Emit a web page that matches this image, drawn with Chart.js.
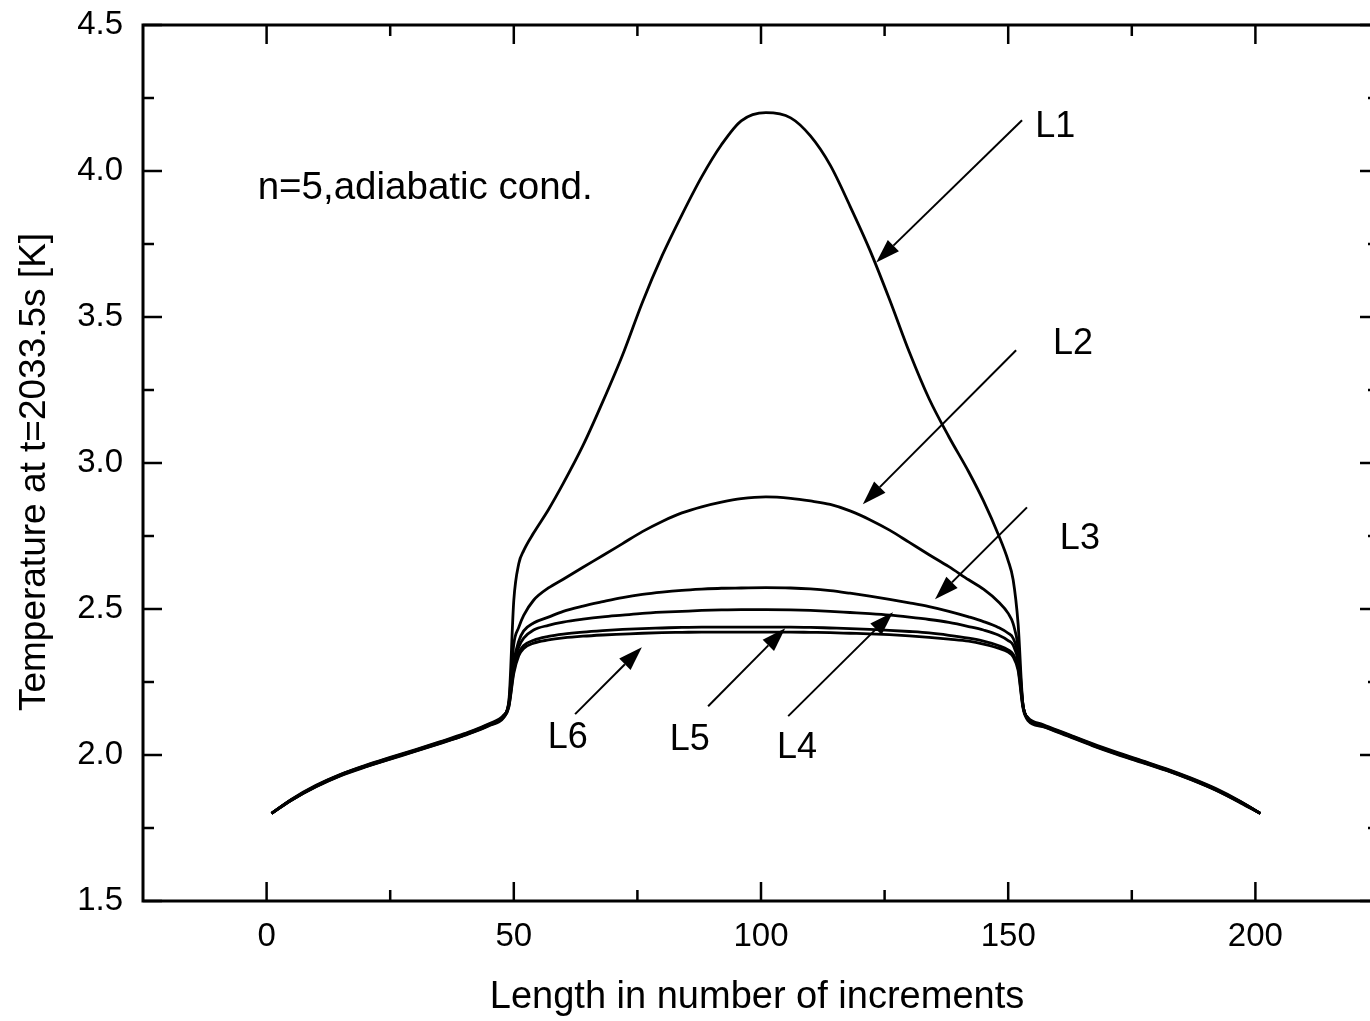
<!DOCTYPE html>
<html><head><meta charset="utf-8">
<script src="https://cdn.jsdelivr.net/npm/chart.js@4.4.1/dist/chart.umd.min.js"></script>
<style>
html,body{margin:0;padding:0;overflow:hidden;background:#fff}
#wrap{width:1370px;height:1021px;overflow:hidden;position:relative;background:#fff}
canvas{display:block}
</style></head><body>
<div id="wrap"><canvas id="c" width="1400" height="1021"></canvas></div>
<script>
// ---- data ----
const xs = [1,5,10,15,20,25,30,35,40,45,48,49,50,51,52,54,57,60,64,68,72,76,80,84,88,92,96,101,106,110,114,118,122,126,130,134,138,142,145,148,150,151,152,153,154,157,162,167,172,177,182,187,192,197,201];
const L1 = [1.800,1.848,1.896,1.934,1.965,1.992,2.018,2.045,2.073,2.107,2.137,
  2.185,2.53,2.655,2.700,
  2.76,2.84,2.93,3.06,3.21,3.37,3.55,3.71,3.85,3.98,4.09,4.172,
  4.200,
  4.182,4.12,4.02,3.88,3.73,3.56,3.38,3.22,3.09,2.97,2.87,2.755,2.665,2.60,
  2.45,2.17,2.128,
  2.104,2.072,2.039,2.009,1.981,1.953,1.921,1.885,1.841,1.800];
const L2 = [1.800,1.847,1.895,1.933,1.963,1.990,2.016,2.043,2.071,2.105,2.135,
  2.18,2.38,2.437,2.478,
  2.53,2.572,2.602,2.643,2.683,2.724,2.765,2.800,2.829,2.850,2.866,2.878,
  2.884,
  2.879,2.870,2.858,2.836,2.806,2.770,2.728,2.686,2.645,2.600,2.568,2.525,2.485,2.45,
  2.37,2.17,2.126,
  2.102,2.070,2.037,2.007,1.979,1.951,1.919,1.883,1.840,1.800];
const L3 = [1.800,1.846,1.894,1.932,1.962,1.989,2.015,2.042,2.070,2.104,2.134,
  2.175,2.32,2.39,2.425,
  2.452,2.472,2.492,2.51,2.525,2.539,2.55,2.558,2.564,2.568,2.571,2.572,
  2.573,
  2.572,2.569,2.563,2.554,2.544,2.533,2.521,2.508,2.492,2.473,2.457,2.437,2.417,2.40,
  2.34,2.17,2.125,
  2.101,2.069,2.036,2.006,1.978,1.950,1.918,1.882,1.839,1.800];
const L4 = [1.800,1.846,1.893,1.931,1.961,1.988,2.014,2.041,2.069,2.103,2.133,
  2.172,2.31,2.37,2.40,
  2.428,2.444,2.455,2.465,2.473,2.479,2.485,2.489,2.492,2.495,2.497,2.498,
  2.498,
  2.497,2.495,2.492,2.488,2.484,2.479,2.472,2.464,2.454,2.440,2.428,2.411,2.392,2.376,
  2.32,2.168,2.124,
  2.100,2.068,2.035,2.005,1.977,1.949,1.917,1.881,1.838,1.800];
const L5 = [1.800,1.845,1.892,1.930,1.960,1.987,2.013,2.040,2.068,2.102,2.131,
  2.168,2.29,2.35,2.375,
  2.393,2.406,2.414,2.421,2.426,2.430,2.433,2.435,2.437,2.438,2.438,2.438,
  2.438,
  2.438,2.437,2.435,2.433,2.430,2.427,2.423,2.418,2.410,2.400,2.390,2.375,2.360,2.345,
  2.30,2.165,2.122,
  2.099,2.067,2.034,2.004,1.976,1.948,1.916,1.880,1.837,1.800];
const L6 = [1.800,1.845,1.891,1.929,1.959,1.986,2.012,2.039,2.067,2.100,2.129,
  2.165,2.28,2.34,2.365,
  2.383,2.394,2.401,2.407,2.411,2.414,2.417,2.419,2.420,2.421,2.421,2.421,
  2.421,
  2.421,2.420,2.419,2.417,2.415,2.412,2.408,2.403,2.397,2.390,2.380,2.366,2.352,2.336,
  2.29,2.16,2.118,
  2.097,2.065,2.032,2.002,1.975,1.947,1.915,1.879,1.836,1.800];
const seriesNames = ['L1','L2','L3','L4','L5','L6'];
const seriesValues = [L1,L2,L3,L4,L5,L6];

const xTickValues = [0,50,100,150,200];
const xMinorTickValues = [25,75,125,175];
const yTickValues = [1.5,2.0,2.5,3.0,3.5,4.0,4.5];
const yMinorTickValues = [1.75,2.25,2.75,3.25,3.75,4.25];

const xTitle = 'Length in number of increments';
const yTitle = 'Temperature at t=2033.5s [K]';
const noteText = 'n=5,adiabatic cond.';
const noteX = -1.8, noteY = 3.94;

// annotation labels and arrows (data coordinates)
const labelX = [159.5,163.1,164.5,107.3,85.6,60.9];
const labelY = [4.149,3.406,2.739,2.023,2.05,2.058];
const arrowFromX = [152.8,151.6,153.8,105.5,89.3,62.4];
const arrowFromY = [4.174,3.386,2.848,2.133,2.167,2.14];
const arrowToX = [123.3,120.6,135.2,126.7,104.9,75.9];
const arrowToY = [3.687,2.859,2.533,2.489,2.434,2.369];

const FONT = "'Liberation Sans', Arial, Helvetica, sans-serif";

const framePlugin = {
  id: 'frame',
  afterDatasetsDraw(chart) {
    const {ctx, chartArea: a, scales: {x, y}} = chart;
    ctx.save();
    ctx.strokeStyle = '#000';
    ctx.fillStyle = '#000';
    ctx.lineWidth = 3;
    ctx.strokeRect(a.left, a.top, a.right - a.left, a.bottom - a.top);
    ctx.lineWidth = 2.5;
    const seg = (x1, y1, x2, y2) => { ctx.beginPath(); ctx.moveTo(x1, y1); ctx.lineTo(x2, y2); ctx.stroke(); };
    const MAJ = 19, MIN = 11;
    xTickValues.forEach(v => { const p = x.getPixelForValue(v); seg(p, a.bottom, p, a.bottom - MAJ); seg(p, a.top, p, a.top + MAJ); });
    xMinorTickValues.forEach(v => { const p = x.getPixelForValue(v); seg(p, a.bottom, p, a.bottom - MIN); seg(p, a.top, p, a.top + MIN); });
    yTickValues.forEach(v => { const p = y.getPixelForValue(v); seg(a.left, p, a.left + MAJ, p); seg(a.right, p, a.right - MAJ, p); });
    yMinorTickValues.forEach(v => { const p = y.getPixelForValue(v); seg(a.left, p, a.left + MIN, p); seg(a.right, p, a.right - MIN, p); });

    // arrows
    ctx.lineWidth = 2;
    for (let i = 0; i < arrowFromX.length; i++) {
      const x1 = x.getPixelForValue(arrowFromX[i]), y1 = y.getPixelForValue(arrowFromY[i]);
      const x2 = x.getPixelForValue(arrowToX[i]), y2 = y.getPixelForValue(arrowToY[i]);
      const ang = Math.atan2(y2 - y1, x2 - x1);
      const hl = 24, hw = 8;
      const bx = x2 - hl * Math.cos(ang), by = y2 - hl * Math.sin(ang);
      seg(x1, y1, bx, by);
      ctx.beginPath();
      ctx.moveTo(x2, y2);
      ctx.lineTo(bx + hw * Math.sin(ang), by - hw * Math.cos(ang));
      ctx.lineTo(bx - hw * Math.sin(ang), by + hw * Math.cos(ang));
      ctx.closePath();
      ctx.fill();
    }
    // labels
    ctx.font = '36px ' + FONT;
    ctx.textAlign = 'center';
    ctx.textBaseline = 'middle';
    for (let i = 0; i < seriesNames.length; i++) {
      ctx.fillText(seriesNames[i], x.getPixelForValue(labelX[i]), y.getPixelForValue(labelY[i]));
    }
    ctx.font = '38.5px ' + FONT;
    ctx.textAlign = 'left';
    ctx.fillText(noteText, x.getPixelForValue(noteX), y.getPixelForValue(noteY));

    // axis titles
    ctx.textAlign = 'center';
    ctx.textBaseline = 'middle';
    ctx.font = '38px ' + FONT;
    ctx.fillText(xTitle, (a.left + a.right) / 2 - 4, a.bottom + 97);
    ctx.save();
    ctx.translate(35, (a.top + a.bottom) / 2 + 9);
    ctx.rotate(-Math.PI / 2);
    ctx.font = '37px ' + FONT;
    ctx.fillText(yTitle, 0, 0);
    ctx.restore();
    ctx.restore();
  }
};

new Chart(document.getElementById('c').getContext('2d'), {
  type: 'line',
  data: {
    datasets: seriesValues.map((vals, i) => ({
      label: seriesNames[i],
      data: xs.map((xv, j) => ({x: xv, y: vals[j]})),
      borderColor: '#000',
      borderWidth: 2.8,
      pointRadius: 0,
      fill: false,
      cubicInterpolationMode: 'monotone'
    }))
  },
  options: {
    responsive: false,
    animation: false,
    devicePixelRatio: 1,
    layout: {padding: {top: 25, right: 21, left: 0, bottom: 0}},
    plugins: {legend: {display: false}, tooltip: {enabled: false}},
    scales: {
      x: {
        type: 'linear', min: -25, max: 225,
        grid: {display: false, drawTicks: false},
        border: {display: false},
        afterBuildTicks: s => { s.ticks = xTickValues.map(v => ({value: v})); },
        afterFit: s => { s.height = 120; s.paddingLeft = 0; s.paddingRight = 0; },
        ticks: {font: {family: FONT, size: 33}, color: '#000', padding: 16, maxRotation: 0, autoSkip: false},
        title: {display: false}
      },
      y: {
        type: 'linear', min: 1.5, max: 4.5,
        grid: {display: false, drawTicks: false},
        border: {display: false},
        afterBuildTicks: s => { s.ticks = yTickValues.map(v => ({value: v})); },
        afterFit: s => { s.width = 143; s.paddingTop = 0; s.paddingBottom = 0; },
        ticks: {font: {family: FONT, size: 33}, color: '#000', padding: 20, callback: v => Number(v).toFixed(1)},
        title: {display: false}
      }
    }
  },
  plugins: [framePlugin]
});
</script>
</body></html>
